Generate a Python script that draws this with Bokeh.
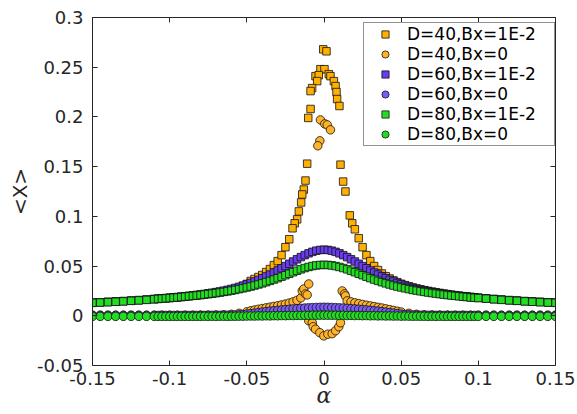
import math
import numpy as np
from bokeh.plotting import figure
from bokeh.models import (LinearAxis, FixedTicker, CustomJSTickFormatter,
                          Legend, LegendItem, Range1d)
from bokeh.embed import file_html
from bokeh.resources import INLINE

nan = float("nan")

# shared alpha grid
alpha = [
    -0.150, -0.145, -0.140, -0.135, -0.130, -0.125, -0.120, -0.115, -0.110,
    -0.1075, -0.105, -0.1025, -0.100, -0.0975, -0.095, -0.0925, -0.090, -0.0875, -0.085, -0.0825,
    -0.080, -0.0775, -0.075, -0.0725, -0.070, -0.0675, -0.065, -0.0625, -0.060, -0.0575, -0.055,
    -0.0525, -0.050, -0.0475, -0.045, -0.0425, -0.040, -0.0375, -0.035, -0.0325, -0.030, -0.0275,
    -0.025, -0.0225, -0.020, -0.0175, -0.015, -0.0125, -0.010, -0.0075, -0.005, -0.0025,
    0.0, 0.0025, 0.005, 0.0075, 0.010, 0.0125, 0.015, 0.0175, 0.020, 0.0225,
    0.025, 0.0275, 0.030, 0.0325, 0.035, 0.0375, 0.040, 0.0425, 0.045, 0.0475, 0.050,
    0.0525, 0.055, 0.0575, 0.060, 0.0625, 0.065, 0.0675, 0.070, 0.0725, 0.075, 0.0775,
    0.080, 0.0825, 0.085, 0.0875, 0.090, 0.0925, 0.095, 0.0975,
    0.100, 0.105, 0.110, 0.115, 0.120, 0.125, 0.130, 0.135, 0.140, 0.145, 0.150,
]

# D=40, Bx=1E-2 (grid part; central peak listed separately)
d40_bx1_grid = [
    0.0132, 0.0135, 0.0139, 0.0143, 0.0147, 0.0152, 0.0157, 0.0162, 0.0168,
    0.0171, 0.0174, 0.0177, 0.0180, 0.0183, 0.0186, 0.0190, 0.0194, 0.0198, 0.0202, 0.0206,
    0.0210, 0.0215, 0.0220, 0.0225, 0.0230, 0.0236, 0.0242, 0.0249, 0.0257, 0.0268, 0.0283,
    0.0300, 0.0320, 0.0350, 0.0370, 0.0390, 0.0410, 0.0440, 0.0470, 0.0510, 0.0550, 0.0610,
    0.0690, 0.0770, nan, nan, nan, nan, nan, nan, nan, nan,
    nan, nan, nan, nan, nan, nan, nan, nan, nan, 0.0780,
    0.0690, 0.0610, 0.0550, 0.0500, 0.0460, 0.0425, 0.0398, 0.0375, 0.0356, 0.0338, 0.0322,
    0.0308, 0.0296, 0.0285, 0.0275, 0.0266, 0.0258, 0.0250, 0.0243, 0.0236, 0.0230, 0.0224,
    0.0218, 0.0212, 0.0207, 0.0202, 0.0197, 0.0193, 0.0189, 0.0185,
    0.0181, 0.0174, 0.0168, 0.0162, 0.0157, 0.0152, 0.0147, 0.0143, 0.0139, 0.0135, 0.0132,
]
d40_bx1_peak_a = [-0.0005, 0.0016, -0.0023, 0.0003, -0.0055, -0.0034, 0.0031, 0.0042,
                  -0.0044, 0.0064, -0.0077, 0.0075, -0.0087, 0.0081, 0.0085, 0.0100,
                  -0.0087, -0.0102, -0.0109, 0.0107, -0.0120, -0.0131, -0.0141, -0.0148,
                  -0.0163, -0.0174, -0.0190, -0.0204, 0.0124, 0.0139, 0.0167, 0.0183, 0.0200]
d40_bx1_peak_y = [0.268, 0.266, 0.248, 0.248, 0.241, 0.242, 0.243, 0.241,
                  0.236, 0.236, 0.229, 0.231, 0.226, 0.225, 0.218, 0.211,
                  0.208, 0.199, 0.153, 0.152, 0.136, 0.127, 0.122, 0.114,
                  0.105, 0.097, 0.093, 0.088, 0.135, 0.125, 0.101, 0.093, 0.087]

# D=40, Bx=0 (own alpha list)
d40_bx0_a = [
    -0.150, -0.145, -0.140, -0.135, -0.130, -0.125, -0.120, -0.115, -0.110, -0.105, -0.100,
    -0.095, -0.090, -0.085, -0.080, -0.075, -0.070, -0.065, -0.060, -0.055, -0.050,
    -0.0475, -0.045, -0.0425, -0.040, -0.0375, -0.035, -0.0325, -0.030, -0.0275, -0.025,
    -0.0225, -0.020, -0.0175, -0.015,
    -0.0141, -0.0131, -0.0099, -0.0120, -0.0109,
    -0.0099, -0.0076, -0.0070, -0.0055, -0.0027, -0.0001, 0.0025, 0.0053, 0.0075, 0.0096, 0.0107, 0.0128,
    0.0118, 0.0133, 0.0139, 0.0150,
    0.0175, 0.020, 0.0225, 0.025, 0.0275, 0.030, 0.0325, 0.035, 0.0375, 0.040, 0.0425, 0.045, 0.0475, 0.050,
    0.055, 0.060, 0.065, 0.070, 0.075, 0.080, 0.085, 0.090, 0.095, 0.100,
    0.105, 0.110, 0.115, 0.120, 0.125, 0.130, 0.135, 0.140, 0.145, 0.150,
    -0.0023, 0.0005, 0.0021, 0.0042, -0.0027, -0.0040,
]
d40_bx0_y = [
    0.0006, 0.0006, 0.0006, 0.0006, 0.0006, 0.0006, 0.0006, 0.0006, 0.0006, 0.0006, 0.0006,
    0.0006, 0.0006, 0.0006, 0.0007, 0.0007, 0.0008, 0.0010, 0.0015, 0.0025, 0.0040,
    0.0050, 0.0058, 0.0066, 0.0073, 0.0080, 0.0087, 0.0094, 0.0101, 0.0109, 0.0118,
    0.0128, 0.0140, 0.0155, 0.0180,
    0.025, 0.027, 0.032, 0.022, 0.021,
    -0.005, -0.007, -0.011, -0.0135, -0.017, -0.0202, -0.0185, -0.018, -0.015, -0.011, -0.007, 0.005,
    0.025, 0.022, 0.020, 0.015,
    0.0140, 0.0130, 0.0122, 0.0114, 0.0106, 0.0099, 0.0092, 0.0085, 0.0078, 0.0070, 0.0062, 0.0054, 0.0046, 0.0038,
    0.0025, 0.0015, 0.0010, 0.0008, 0.0007, 0.0007, 0.0006, 0.0006, 0.0006, 0.0006,
    0.0006, 0.0006, 0.0006, 0.0006, 0.0006, 0.0006, 0.0006, 0.0006, 0.0006, 0.0006,
    0.197, 0.193, 0.192, 0.187, 0.176, 0.171,
]

# D=60, Bx=1E-2
d60_bx1 = [
    0.0133, 0.0136, 0.0140, 0.0144, 0.0148, 0.0153, 0.0158, 0.0163, 0.0169,
    0.0172, 0.0175, 0.0178, 0.0182, 0.0185, 0.0189, 0.0193, 0.0197, 0.0201, 0.0205, 0.0210,
    0.0215, 0.0220, 0.0226, 0.0232, 0.0238, 0.0245, 0.0253, 0.0261, 0.0270, 0.0280, 0.0291,
    0.0303, 0.0316, 0.0330, 0.0345, 0.0361, 0.0378, 0.0396, 0.0415, 0.0435, 0.0456, 0.0478,
    0.0500, 0.0523, 0.0546, 0.0568, 0.0590, 0.0610, 0.0628, 0.0643, 0.0655, 0.0662,
    0.0665, 0.0662, 0.0655, 0.0643, 0.0628, 0.0610, 0.0590, 0.0568, 0.0546, 0.0523,
    0.0500, 0.0478, 0.0456, 0.0435, 0.0415, 0.0396, 0.0378, 0.0361, 0.0345, 0.0330, 0.0316,
    0.0303, 0.0291, 0.0280, 0.0270, 0.0261, 0.0253, 0.0245, 0.0238, 0.0232, 0.0226, 0.0220,
    0.0215, 0.0210, 0.0205, 0.0201, 0.0197, 0.0193, 0.0189, 0.0185,
    0.0182, 0.0175, 0.0169, 0.0163, 0.0158, 0.0153, 0.0148, 0.0144, 0.0140, 0.0136, 0.0133,
]

# D=60, Bx=0
d60_bx0 = [
    0.0004, 0.0004, 0.0004, 0.0004, 0.0004, 0.0004, 0.0004, 0.0004, 0.0004,
    0.0004, 0.0004, 0.0004, 0.0004, 0.0004, 0.0004, 0.0004, 0.0004, 0.0004, 0.0004, 0.0004,
    0.0004, 0.0004, 0.0004, 0.0005, 0.0005, 0.0005, 0.0006, 0.0006, 0.0006, 0.0008, 0.0010,
    0.0013, 0.0017, 0.0022, 0.0027, 0.0032, 0.0037, 0.0042, 0.0047, 0.0051, 0.0055, 0.0059,
    0.0063, 0.0066, 0.0069, 0.0072, 0.0075, 0.0078, 0.0080, 0.0082, 0.0084, 0.0085,
    0.0086, 0.0085, 0.0084, 0.0082, 0.0080, 0.0078, 0.0075, 0.0072, 0.0069, 0.0066,
    0.0063, 0.0059, 0.0055, 0.0051, 0.0047, 0.0042, 0.0037, 0.0032, 0.0027, 0.0022, 0.0017,
    0.0013, 0.0010, 0.0008, 0.0006, 0.0006, 0.0006, 0.0005, 0.0005, 0.0005, 0.0004, 0.0004,
    0.0004, 0.0004, 0.0004, 0.0004, 0.0004, 0.0004, 0.0004, 0.0004,
    0.0004, 0.0004, 0.0004, 0.0004, 0.0004, 0.0004, 0.0004, 0.0004, 0.0004, 0.0004, 0.0004,
]

# D=80, Bx=1E-2
d80_bx1 = [
    0.0130, 0.0133, 0.0137, 0.0141, 0.0145, 0.0150, 0.0155, 0.0160, 0.0166,
    0.0169, 0.0172, 0.0175, 0.0178, 0.0181, 0.0184, 0.0188, 0.0192, 0.0196, 0.0200, 0.0204,
    0.0208, 0.0213, 0.0218, 0.0223, 0.0228, 0.0234, 0.0240, 0.0246, 0.0253, 0.0260, 0.0268,
    0.0276, 0.0285, 0.0294, 0.0304, 0.0315, 0.0326, 0.0338, 0.0351, 0.0364, 0.0378, 0.0393,
    0.0408, 0.0423, 0.0438, 0.0453, 0.0467, 0.0480, 0.0491, 0.0500, 0.0507, 0.0511,
    0.0512, 0.0511, 0.0507, 0.0500, 0.0491, 0.0480, 0.0467, 0.0453, 0.0438, 0.0423,
    0.0408, 0.0393, 0.0378, 0.0364, 0.0351, 0.0338, 0.0326, 0.0315, 0.0304, 0.0294, 0.0285,
    0.0276, 0.0268, 0.0260, 0.0253, 0.0246, 0.0240, 0.0234, 0.0228, 0.0223, 0.0218, 0.0213,
    0.0208, 0.0204, 0.0200, 0.0196, 0.0192, 0.0188, 0.0184, 0.0181,
    0.0178, 0.0172, 0.0166, 0.0160, 0.0155, 0.0150, 0.0145, 0.0141, 0.0137, 0.0133, 0.0130,
]

# D=80, Bx=0
d80_bx0 = [
    -0.0006, -0.0006, -0.0006, -0.0006, -0.0006, -0.0006, -0.0006, -0.0006, -0.0006,
    -0.0006, -0.0006, -0.0006, -0.0006, -0.0006, -0.0006, -0.0006, -0.0006, -0.0006, -0.0006, -0.0006,
    -0.0006, -0.0005, -0.0006, -0.0005, -0.0006, -0.0005, -0.0005, -0.0006, -0.0005, -0.0005, -0.0004,
    -0.0004, -0.0003, -0.0002, -0.0003, -0.0001, -0.0002, 0.0000, -0.0001, 0.0001, 0.0000, 0.0002,
    0.0001, 0.0003, 0.0002, 0.0004, 0.0003, 0.0005, 0.0004, 0.0006, 0.0005, 0.0006,
    0.0006, 0.0006, 0.0005, 0.0006, 0.0004, 0.0005, 0.0003, 0.0004, 0.0002, 0.0003,
    0.0001, 0.0002, 0.0000, 0.0001, -0.0001, 0.0000, -0.0002, -0.0001, -0.0003, -0.0002, -0.0004,
    -0.0003, -0.0004, -0.0005, -0.0004, -0.0005, -0.0005, -0.0006, -0.0005, -0.0006, -0.0005, -0.0006,
    -0.0006, -0.0006, -0.0006, -0.0006, -0.0006, -0.0006, -0.0006, -0.0006,
    -0.0006, -0.0006, -0.0006, -0.0006, -0.0006, -0.0006, -0.0006, -0.0006, -0.0006, -0.0006, -0.0006,
]

labels = ["D=40,Bx=1E-2", "D=40,Bx=0", "D=60,Bx=1E-2", "D=60,Bx=0", "D=80,Bx=1E-2", "D=80,Bx=0"]
x_ticks = [-0.15, -0.1, -0.05, 0, 0.05, 0.1, 0.15]
y_ticks = [-0.05, 0, 0.05, 0.1, 0.15, 0.2, 0.25, 0.3]

ORANGE_SQ = "#FFB000"
ORANGE_CI = "#FFB22A"
PURPLE_SQ = "#6A3CF0"
PURPLE_CI = "#7A5CF2"
GREEN = "#22DD22"
AX = "#262626"

a = np.array(alpha, dtype=float)
og = np.array(d40_bx1_grid, dtype=float)
mask = ~np.isnan(og)
o_x = np.concatenate([a[mask], np.array(d40_bx1_peak_a)])
o_y = np.concatenate([og[mask], np.array(d40_bx1_peak_y)])

p = figure(width=577, height=414, x_range=Range1d(-0.15, 0.15), y_range=Range1d(-0.05, 0.3),
           output_backend="svg", toolbar_location=None,
           min_border_left=92, min_border_right=22, min_border_top=17, min_border_bottom=49)
p.xgrid.visible = False
p.ygrid.visible = False
p.outline_line_color = None
p.background_fill_color = "white"
p.border_fill_color = "white"

fmt_code = "return Number(tick.toFixed(3)).toString();"
for ax, ticks in ((p.xaxis[0], x_ticks), (p.yaxis[0], y_ticks)):
    ax.ticker = FixedTicker(ticks=ticks)
    ax.formatter = CustomJSTickFormatter(code=fmt_code)
    ax.major_tick_in = 5
    ax.major_tick_out = 0
    ax.minor_tick_in = 0
    ax.minor_tick_out = 0
    ax.axis_line_color = AX
    ax.major_tick_line_color = AX
    ax.major_label_text_font = "DejaVu Sans"
    ax.major_label_text_font_size = "18px"
    ax.major_label_text_color = AX
p.xaxis[0].major_label_standoff = 6
p.yaxis[0].major_label_standoff = 9

p.xaxis[0].axis_label = "α"
p.xaxis[0].axis_label_text_font = "DejaVu Serif"
p.xaxis[0].axis_label_text_font_style = "italic"
p.xaxis[0].axis_label_text_font_size = "22px"
p.xaxis[0].axis_label_text_color = AX
p.xaxis[0].axis_label_standoff = -5

p.yaxis[0].axis_label = "<X>"
p.yaxis[0].axis_label_text_font = "DejaVu Sans"
p.yaxis[0].axis_label_text_font_style = "normal"
p.yaxis[0].axis_label_text_font_size = "20px"
p.yaxis[0].axis_label_text_color = AX
p.yaxis[0].axis_label_standoff = 2

for loc, ticks in (("right", y_ticks), ("above", x_ticks)):
    ax = LinearAxis(ticker=FixedTicker(ticks=ticks),
                    formatter=CustomJSTickFormatter(code="return '';"),
                    major_tick_in=5, major_tick_out=0, minor_tick_in=0, minor_tick_out=0,
                    axis_line_color=AX, major_tick_line_color=AX,
                    major_label_text_font_size="0px", major_label_standoff=0)
    p.add_layout(ax, loc)

lw = 0.8
lc = "#111111"
r1 = p.scatter(o_x, o_y, marker="square", size=7.5, fill_color=ORANGE_SQ, line_color=lc, line_width=lw)
r2 = p.scatter(d40_bx0_a, d40_bx0_y, marker="circle", size=8.5, fill_color=ORANGE_CI, line_color=lc, line_width=lw)
r3 = p.scatter(alpha, d60_bx1, marker="square", size=7.5, fill_color=PURPLE_SQ, line_color=lc, line_width=lw)
r4 = p.scatter(alpha, d60_bx0, marker="circle", size=8.5, fill_color=PURPLE_CI, line_color=lc, line_width=lw)
r5 = p.scatter(alpha, d80_bx1, marker="square", size=7.5, fill_color=GREEN, line_color=lc, line_width=lw)
r6 = p.scatter(alpha, d80_bx0, marker="circle", size=8.5, fill_color=GREEN, line_color=lc, line_width=lw)

legend = Legend(items=[LegendItem(label=l, renderers=[r]) for l, r in zip(labels, [r1, r2, r3, r4, r5, r6])],
                location=(271, 219))
legend.label_text_font = "DejaVu Sans"
legend.label_text_font_size = "17px"
legend.label_text_line_height = 1.0
legend.label_text_color = "black"
legend.border_line_color = AX
legend.border_line_width = 1
legend.background_fill_color = "white"
legend.background_fill_alpha = 1.0
legend.padding = 1
legend.spacing = 0
legend.margin = 0
legend.glyph_width = 40
legend.glyph_height = 18
legend.label_height = 18
legend.label_standoff = 2
legend.label_width = 146
p.add_layout(legend)

open("out.html", "w").write(file_html(p, INLINE))
